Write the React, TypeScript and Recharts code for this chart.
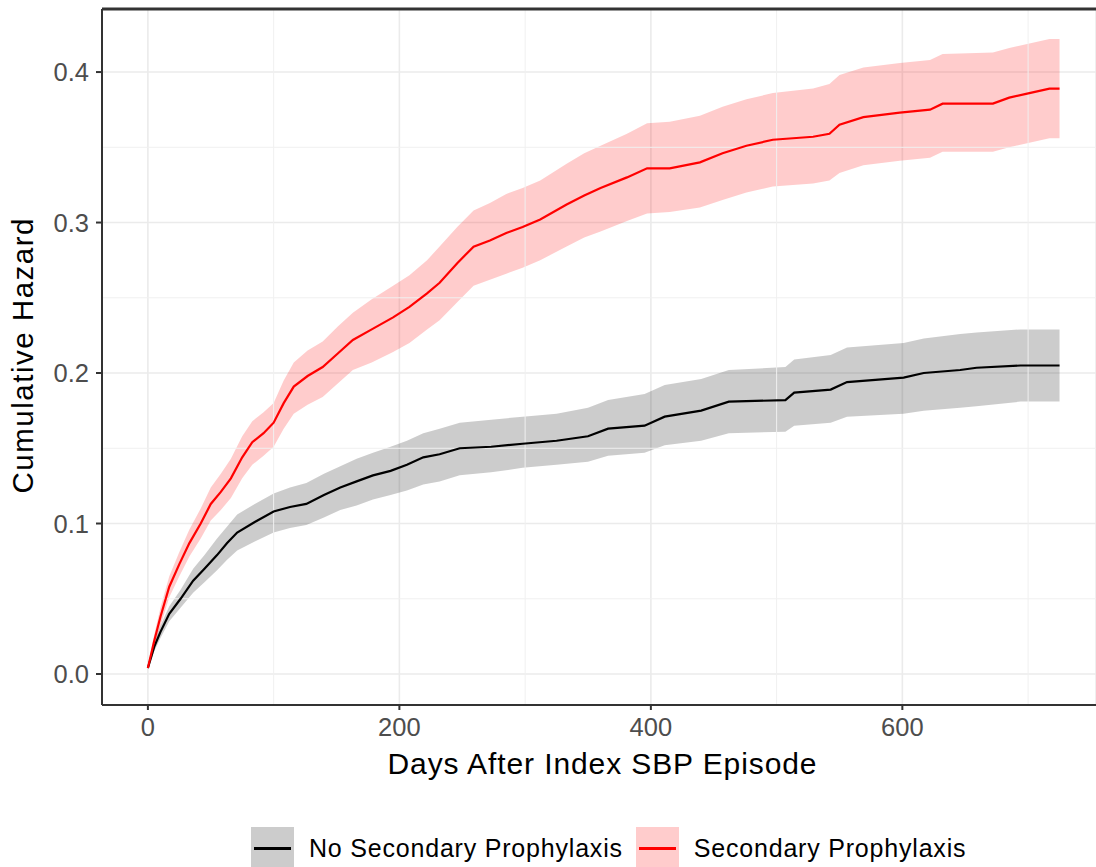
import React from "react";
import {
  ComposedChart,
  Area,
  Line,
  XAxis,
  YAxis,
  CartesianGrid,
  ReferenceLine,
} from "recharts";

// Secondary prophylaxis (red)
const spDays = [0, 5, 10, 17, 25, 33, 42, 50, 58, 66, 75, 83, 92, 100, 108, 116, 127, 139, 151, 163, 178, 195, 208, 222, 232, 246, 259, 272, 285, 298, 312, 333, 347, 360, 381, 397, 415, 439, 457, 476, 497, 529, 542, 550, 569, 598, 622, 632, 672, 685, 701, 717, 725];
const spEst = [0.004, 0.022, 0.038, 0.058, 0.073, 0.087, 0.1, 0.113, 0.121, 0.13, 0.144, 0.154, 0.16, 0.167, 0.18, 0.191, 0.198, 0.204, 0.213, 0.222, 0.229, 0.237, 0.244, 0.253, 0.26, 0.273, 0.284, 0.288, 0.293, 0.297, 0.302, 0.312, 0.318, 0.323, 0.33, 0.336, 0.336, 0.34, 0.346, 0.351, 0.355, 0.357, 0.359, 0.365, 0.37, 0.373, 0.375, 0.379, 0.379, 0.383, 0.386, 0.389, 0.389];
const spLower = [0.003, 0.018, 0.032, 0.051, 0.065, 0.078, 0.09, 0.102, 0.109, 0.117, 0.13, 0.139, 0.145, 0.151, 0.163, 0.173, 0.179, 0.184, 0.193, 0.202, 0.207, 0.214, 0.22, 0.229, 0.235, 0.247, 0.258, 0.262, 0.266, 0.27, 0.275, 0.284, 0.29, 0.294, 0.301, 0.306, 0.307, 0.31, 0.315, 0.32, 0.324, 0.326, 0.328, 0.333, 0.338, 0.341, 0.343, 0.347, 0.347, 0.35, 0.353, 0.356, 0.356];
const spUpper = [0.005, 0.026, 0.044, 0.065, 0.081, 0.096, 0.11, 0.124, 0.133, 0.143, 0.158, 0.168, 0.174, 0.18, 0.195, 0.207, 0.215, 0.221, 0.231, 0.24, 0.249, 0.258, 0.265, 0.275, 0.284, 0.297, 0.308, 0.313, 0.319, 0.323, 0.328, 0.339, 0.346, 0.351, 0.359, 0.366, 0.367, 0.371, 0.377, 0.382, 0.386, 0.389, 0.392, 0.398, 0.403, 0.406, 0.408, 0.412, 0.413, 0.416, 0.419, 0.422, 0.422];

// No secondary prophylaxis (black)
const noDays = [0, 5, 10, 17, 26, 36, 45, 55, 63, 71, 85, 100, 113, 126, 140, 153, 166, 179, 193, 206, 219, 232, 248, 273, 298, 325, 350, 366, 395, 411, 440, 462, 507, 514, 543, 556, 601, 617, 646, 659, 694, 725];
const noEst = [0.004, 0.018, 0.028, 0.04, 0.05, 0.062, 0.07, 0.079, 0.087, 0.094, 0.101, 0.108, 0.111, 0.113, 0.119, 0.124, 0.128, 0.132, 0.135, 0.139, 0.144, 0.146, 0.15, 0.151, 0.153, 0.155, 0.158, 0.163, 0.165, 0.171, 0.175, 0.181, 0.182, 0.187, 0.189, 0.194, 0.197, 0.2, 0.202, 0.2035, 0.205, 0.205];
const noLower = [0.003, 0.015, 0.024, 0.035, 0.044, 0.054, 0.061, 0.069, 0.076, 0.082, 0.088, 0.094, 0.097, 0.099, 0.104, 0.109, 0.112, 0.116, 0.119, 0.122, 0.126, 0.128, 0.132, 0.134, 0.137, 0.139, 0.141, 0.145, 0.147, 0.152, 0.155, 0.16, 0.161, 0.165, 0.167, 0.171, 0.173, 0.175, 0.177, 0.178, 0.181, 0.181];
const noUpper = [0.005, 0.021, 0.032, 0.045, 0.056, 0.07, 0.079, 0.09, 0.098, 0.106, 0.113, 0.12, 0.124, 0.127, 0.133, 0.138, 0.143, 0.147, 0.151, 0.155, 0.16, 0.163, 0.167, 0.169, 0.171, 0.173, 0.177, 0.182, 0.186, 0.192, 0.196, 0.202, 0.204, 0.209, 0.212, 0.217, 0.22, 0.223, 0.226, 0.227, 0.229, 0.229];

const xTicks = [0, 200, 400, 600];
const xMinor = [100, 300, 500, 700];
const yTicks = [0, 0.1, 0.2, 0.3, 0.4];
const yMinor = [0.05, 0.15, 0.25, 0.35];

const legendItems = [
  { label: "No Secondary Prophylaxis", line: "#000000", fill: "#cccccc" },
  { label: "Secondary Prophylaxis", line: "#ff0000", fill: "#ffcccc" },
];

const build = (days: number[], est: number[], lo: number[], hi: number[]) =>
  days.map((d, i) => ({ day: d, est: est[i], lo: lo[i], hi: hi[i] }));

const spData = build(spDays, spEst, spLower, spUpper);
const noData = build(noDays, noEst, noLower, noUpper);

const X_DOMAIN: [number, number] = [-36.5, 754];
const Y_DOMAIN: [number, number] = [-0.0206, 0.4419];
const FONT = "'Liberation Sans', Arial, sans-serif";

const XTitle = (props: any) => {
  const vb = props.viewBox;
  return (
    <text
      x={vb.x + vb.width / 2 + 3}
      y={vb.y + 69}
      textAnchor="middle"
      fontFamily={FONT}
      fontSize={30}
      fill="#000"
      textLength={429}
      lengthAdjust="spacing"
    >
      Days After Index SBP Episode
    </text>
  );
};

const YTitle = (props: any) => {
  const vb = props.viewBox;
  const x = vb.x + 33;
  const y = vb.y + vb.height / 2 - 1;
  return (
    <text
      x={x}
      y={y}
      transform={`rotate(-90 ${x} ${y})`}
      textAnchor="middle"
      fontFamily={FONT}
      fontSize={29.5}
      fill="#000"
      textLength={275}
      lengthAdjust="spacing"
    >
      Cumulative Hazard
    </text>
  );
};

export default function App() {
  return (
    <div
      style={{
        position: "fixed",
        left: 0,
        top: 0,
        width: 1096,
        height: 867,
        overflow: "hidden",
        background: "#fff",
        fontFamily: FONT,
      }}
    >
      <ComposedChart
        width={1096}
        height={867}
        margin={{ top: 9, right: 0, bottom: 82, left: 0 }}
      >
        <CartesianGrid stroke="#ebebeb" strokeWidth={1.6} />
        {xMinor.map((v) => (
          <ReferenceLine key={`xm${v}`} x={v} stroke="#f0f0f0" strokeWidth={1} />
        ))}
        {yMinor.map((v) => (
          <ReferenceLine key={`ym${v}`} y={v} stroke="#f0f0f0" strokeWidth={1} />
        ))}
        <XAxis
          dataKey="day"
          type="number"
          domain={X_DOMAIN}
          allowDataOverflow
          ticks={xTicks}
          height={80}
          tickSize={5}
          tickMargin={8}
          axisLine={{ stroke: "#333333", strokeWidth: 2 }}
          tickLine={{ stroke: "#333333", strokeWidth: 2 }}
          tick={{ fill: "#4d4d4d", fontSize: 25.5, fontFamily: FONT }}
          label={<XTitle />}
        />
        <YAxis
          type="number"
          domain={Y_DOMAIN}
          allowDataOverflow
          ticks={yTicks}
          width={102}
          tickSize={6}
          tickMargin={7}
          tickFormatter={(v: number) => v.toFixed(1)}
          axisLine={{ stroke: "#333333", strokeWidth: 2 }}
          tickLine={{ stroke: "#333333", strokeWidth: 2 }}
          tick={{ fill: "#4d4d4d", fontSize: 25.5, fontFamily: FONT }}
          label={<YTitle />}
        />
        <ReferenceLine y={Y_DOMAIN[1]} stroke="#333333" strokeWidth={3} />

        <Area
          data={noData}
          dataKey={(d: any) => [d.lo, d.hi]}
          type="linear"
          stroke="none"
          fill="#000000"
          fillOpacity={0.2}
          isAnimationActive={false}
        />
        <Area
          data={spData}
          dataKey={(d: any) => [d.lo, d.hi]}
          type="linear"
          stroke="none"
          fill="#ff0000"
          fillOpacity={0.2}
          isAnimationActive={false}
        />
        <Line
          data={noData}
          dataKey="est"
          type="linear"
          stroke="#000000"
          strokeWidth={2.2}
          dot={false}
          isAnimationActive={false}
        />
        <Line
          data={spData}
          dataKey="est"
          type="linear"
          stroke="#ff0000"
          strokeWidth={2.2}
          dot={false}
          isAnimationActive={false}
        />
      </ComposedChart>

      <div
        style={{
          position: "absolute",
          left: 251,
          top: 827,
          display: "flex",
          alignItems: "center",
          whiteSpace: "nowrap",
        }}
      >
        {legendItems.map((it, i) => (
          <div
            key={it.label}
            style={{ display: "flex", alignItems: "center", marginRight: i === 0 ? 13 : 0 }}
          >
            <div
              style={{
                width: 43,
                height: 43,
                background: it.fill,
                position: "relative",
              }}
            >
              <div
                style={{
                  position: "absolute",
                  left: 3,
                  right: 3,
                  top: 20,
                  height: 3,
                  background: it.line,
                }}
              />
            </div>
            <span
              style={{
                marginLeft: 15,
                fontSize: 25,
                letterSpacing: 0.8,
                color: "#000",
                lineHeight: "43px",
              }}
            >
              {it.label}
            </span>
          </div>
        ))}
      </div>
    </div>
  );
}
